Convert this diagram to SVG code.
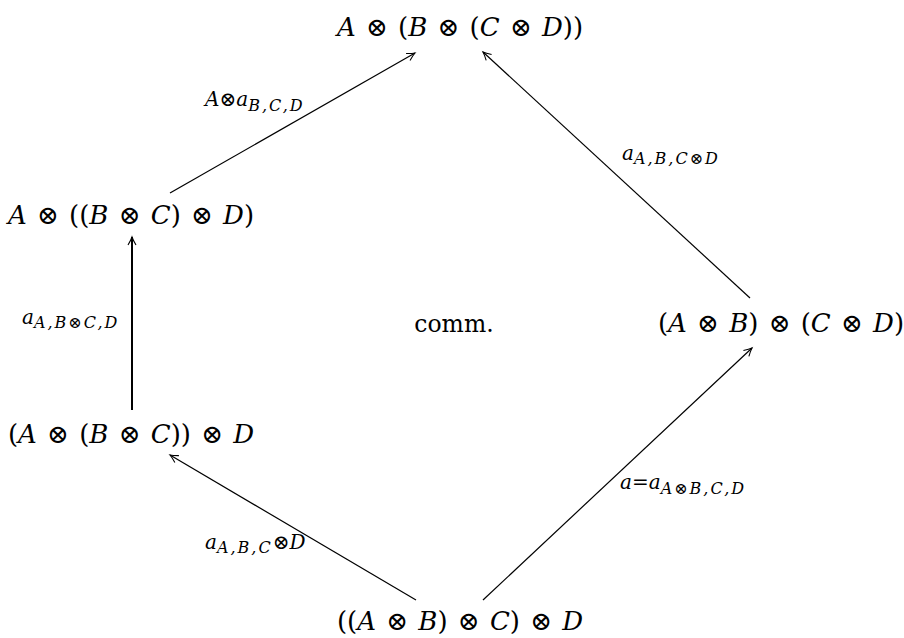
<svg xmlns="http://www.w3.org/2000/svg" width="904" height="638" viewBox="0 0 904 638" font-family="DejaVu Serif, serif">
<defs>
<style>
text{font-family:'DejaVu Serif',serif;fill:#000}
.n{font-size:26px;word-spacing:2px}
.l{font-size:20px}
.s{font-size:16px;letter-spacing:2px}
.i{font-style:italic}
.c{font-size:23.5px}
.e{stroke:#000;stroke-width:1.2;fill:none}
</style>
<marker id="ah" markerUnits="userSpaceOnUse" markerWidth="14" markerHeight="14" viewBox="-10 -7 12 14" refX="0" refY="0" orient="auto">
<path d="M-8,-4 Q-3,-1 0,0 Q-3,1 -8,4" fill="none" stroke="#000" stroke-width="1.1"/>
</marker>
</defs>
<rect width="904" height="638" fill="#fff"/>
<g id="connectors">
<line class="e" x1="170" y1="193" x2="415" y2="53" marker-end="url(#ah)"/>
<line class="e" x1="750" y1="298" x2="483" y2="52" marker-end="url(#ah)"/>
<line class="e" x1="132" y1="410" x2="132" y2="237" style="stroke-width:2" marker-end="url(#ah)"/>
<line class="e" x1="416" y1="600" x2="170" y2="455" marker-end="url(#ah)"/>
<line class="e" x1="483" y1="600" x2="752" y2="348" marker-end="url(#ah)"/>
<text class="l" x="205" y="106"><tspan class="i">A</tspan>⊗<tspan class="i">a</tspan><tspan class="s i" dy="5">B,C,D</tspan></text>
<text class="l" x="622" y="160"><tspan class="i">a</tspan><tspan class="s" dy="4"><tspan class="i">A,B,C</tspan>⊗<tspan class="i">D</tspan></tspan></text>
<text class="l" x="22" y="324"><tspan class="i">a</tspan><tspan class="s" dy="4"><tspan class="i">A,B</tspan>⊗<tspan class="i">C,D</tspan></tspan></text>
<text class="l" x="205" y="549"><tspan class="i">a</tspan><tspan class="s i" dy="4">A,B,C</tspan><tspan dy="-4">⊗</tspan><tspan class="i">D</tspan></text>
<text class="l" x="620" y="489"><tspan class="i">a</tspan>=<tspan class="i">a</tspan><tspan class="s" dy="5"><tspan class="i">A</tspan>⊗<tspan class="i">B,C,D</tspan></tspan></text>
</g>
<g id="n-top"><text class="n" x="460" y="36" text-anchor="middle"><tspan class="i">A</tspan> ⊗ (<tspan class="i">B</tspan> ⊗ (<tspan class="i">C</tspan> ⊗ <tspan class="i">D</tspan>))</text></g>
<g id="n-left-upper"><text class="n" x="131" y="224" text-anchor="middle"><tspan class="i">A</tspan> ⊗ ((<tspan class="i">B</tspan> ⊗ <tspan class="i">C</tspan>) ⊗ <tspan class="i">D</tspan>)</text></g>
<g id="n-left-lower"><text class="n" x="131" y="443" text-anchor="middle">(<tspan class="i">A</tspan> ⊗ (<tspan class="i">B</tspan> ⊗ <tspan class="i">C</tspan>)) ⊗ <tspan class="i">D</tspan></text></g>
<g id="n-right"><text class="n" x="781" y="332" text-anchor="middle">(<tspan class="i">A</tspan> ⊗ <tspan class="i">B</tspan>) ⊗ (<tspan class="i">C</tspan> ⊗ <tspan class="i">D</tspan>)</text></g>
<g id="n-bottom"><text class="n" x="460" y="630" text-anchor="middle">((<tspan class="i">A</tspan> ⊗ <tspan class="i">B</tspan>) ⊗ <tspan class="i">C</tspan>) ⊗ <tspan class="i">D</tspan></text></g>
<g id="n-comm"><text class="c" x="454" y="332" text-anchor="middle">comm.</text></g>
</svg>
